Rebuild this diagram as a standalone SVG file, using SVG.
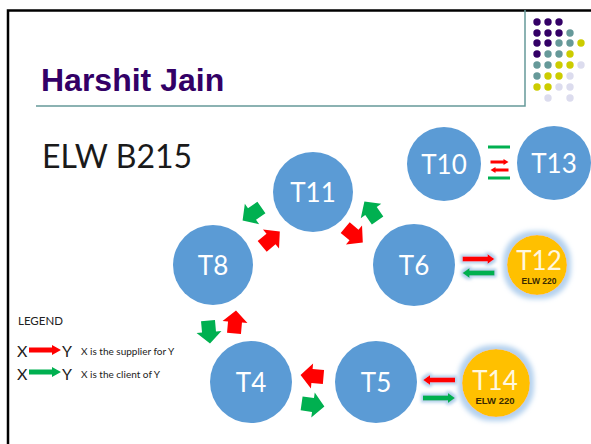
<svg xmlns="http://www.w3.org/2000/svg" xmlns:xlink="http://www.w3.org/1999/xlink" width="591" height="444" viewBox="0 0 591 444">
  <style>
    .node { fill: #5b9bd5; }
    .lab { font-family: Lato, "Liberation Sans", sans-serif; font-size: 26px; fill: #ffffff; text-anchor: middle; }
    .sub { font-family: "Liberation Sans", Arial, sans-serif; font-size: 8.5px; font-weight: bold; fill: #3a2a00; text-anchor: middle; }
    .org { fill: #ffc000; }
    .red { fill: #ff0000; }
    .grn { fill: #00b050; }
    .leg { font-family: Lato, "Liberation Sans", sans-serif; fill: #222222; }
  </style>
  <defs>
    <!-- fat block arrow, pointing along +x, centred on origin -->
    <path id="blk" d="M11.5,0 L0,-12.5 L0,-7 L-11.5,-7 L-11.5,7 L0,7 L0,12.5 Z"/>
    <!-- slim arrow, pointing along +x -->
    <path id="thin" d="M16,0 L9,-5 L9,-2.6 L-16,-2.6 L-16,2.6 L9,2.6 L9,5 Z"/>
    <path id="tiny" d="M9,0 L4,-3 L4,-1.4 L-9,-1.4 L-9,1.4 L4,1.4 L4,3 Z"/>
    <filter id="glow" x="-50%" y="-50%" width="200%" height="200%">
      <feMorphology in="SourceAlpha" operator="dilate" radius="2" result="d"/>
      <feGaussianBlur in="d" stdDeviation="1.6" result="b"/>
      <feFlood flood-color="#9dc3e6" flood-opacity="0.8"/>
      <feComposite in2="b" operator="in" result="g"/>
      <feMerge><feMergeNode in="g"/><feMergeNode in="SourceGraphic"/></feMerge>
    </filter>
    <filter id="halo" x="-50%" y="-50%" width="200%" height="200%">
      <feMorphology in="SourceAlpha" operator="dilate" radius="3.5" result="d"/>
      <feGaussianBlur in="d" stdDeviation="2.5" result="b"/>
      <feFlood flood-color="#b4d1ee" flood-opacity="1"/>
      <feComposite in2="b" operator="in" result="g"/>
      <feMerge><feMergeNode in="g"/><feMergeNode in="SourceGraphic"/></feMerge>
    </filter>
  </defs>

  <rect width="591" height="444" fill="#ffffff"/>

  <!-- slide frame -->
  <g id="frame">
    <path d="M8,444 V10.5 H591" fill="none" stroke="#000000" stroke-width="2.5"/>
    <path d="M36,106 H525 V10" fill="none" stroke="#669999" stroke-width="1.5"/>
  </g>

  <!-- dot ornament -->
  <g id="dots">
    <g fill="#330066">
      <circle cx="537" cy="22" r="3.7"/><circle cx="548" cy="22" r="3.7"/><circle cx="559" cy="22" r="3.7"/>
      <circle cx="537" cy="33" r="3.7"/><circle cx="548" cy="33" r="3.7"/><circle cx="559" cy="33" r="3.7"/>
      <circle cx="537" cy="43" r="3.7"/><circle cx="548" cy="43" r="3.7"/>
      <circle cx="537" cy="54" r="3.7"/>
    </g>
    <g fill="#669999">
      <circle cx="570" cy="33" r="3.7"/>
      <circle cx="559" cy="43" r="3.7"/><circle cx="570" cy="43" r="3.7"/>
      <circle cx="548" cy="54" r="3.7"/><circle cx="559" cy="54" r="3.7"/>
      <circle cx="537" cy="65" r="3.7"/><circle cx="548" cy="65" r="3.7"/>
      <circle cx="537" cy="76" r="3.7"/>
    </g>
    <g fill="#cccc00">
      <circle cx="581" cy="43" r="3.7"/>
      <circle cx="570" cy="54" r="3.7"/>
      <circle cx="559" cy="65" r="3.7"/><circle cx="570" cy="65" r="3.7"/>
      <circle cx="548" cy="76" r="3.7"/><circle cx="559" cy="76" r="3.7"/>
      <circle cx="537" cy="87" r="3.7"/><circle cx="548" cy="87" r="3.7"/>
    </g>
    <g fill="#dcdcee">
      <circle cx="581" cy="65" r="3.7"/>
      <circle cx="570" cy="76" r="3.7"/>
      <circle cx="559" cy="87" r="3.7"/><circle cx="570" cy="87" r="3.7"/>
      <circle cx="548" cy="98" r="3.7"/><circle cx="570" cy="98" r="3.7"/>
    </g>
  </g>

  <text x="41" y="91" font-family="'Liberation Sans', Arial, sans-serif" font-size="32" font-weight="bold" fill="#330066">Harshit Jain</text>
  <text x="42" y="168" font-family="Lato, 'Liberation Sans', sans-serif" font-size="32" fill="#1a1a1a">ELW B215</text>

  <!-- nodes -->
  <g id="T11"><circle class="node" cx="313" cy="192" r="40"/><text class="lab" x="313" y="201.5">T11</text></g>
  <g id="T8"><circle class="node" cx="213" cy="265" r="40"/><text class="lab" x="213" y="274.5">T8</text></g>
  <g id="T6"><circle class="node" cx="414" cy="265" r="41"/><text class="lab" x="414" y="274.5">T6</text></g>
  <g id="T10"><circle class="node" cx="444" cy="164" r="37"/><text class="lab" x="444" y="173.5">T10</text></g>
  <g id="T13"><circle class="node" cx="554" cy="163" r="37"/><text class="lab" x="554" y="172.5">T13</text></g>
  <g id="T4"><circle class="node" cx="251" cy="382" r="41"/><text class="lab" x="251" y="391.5">T4</text></g>
  <g id="T5"><circle class="node" cx="376" cy="382" r="41"/><text class="lab" x="376" y="391.5">T5</text></g>
  <g id="T12">
    <circle class="org" cx="537" cy="265" r="30" filter="url(#halo)"/>
    <text class="lab" x="539" y="270" style="fill:#fff8e0">T12</text>
    <text class="sub" x="539" y="283.5">ELW 220</text>
  </g>
  <g id="T14">
    <circle class="org" cx="496" cy="383" r="34" filter="url(#halo)"/>
    <text class="lab" x="495" y="390" style="fill:#fff8e0">T14</text>
    <text class="sub" x="495" y="404" style="font-size:9.5px">ELW 220</text>
  </g>

  <!-- connectors -->
  <g id="connectors">
    <!-- T8 / T11 -->
    <use xlink:href="#blk" class="grn" transform="translate(252,214) rotate(145)"/>
    <use xlink:href="#blk" class="red" transform="translate(271,239) rotate(-40)"/>
    <!-- T11 / T6 -->
    <use xlink:href="#blk" class="grn" transform="translate(371,211) rotate(-125)"/>
    <use xlink:href="#blk" class="red" transform="translate(354,235) rotate(40)"/>
    <!-- T8 / T4 -->
    <use xlink:href="#blk" class="grn" transform="translate(209,332) rotate(85)"/>
    <use xlink:href="#blk" class="red" transform="translate(235,322) rotate(-85)"/>
    <!-- T4 / T5 -->
    <use xlink:href="#blk" class="red" transform="translate(312,376) rotate(185)"/>
    <use xlink:href="#blk" class="grn" transform="translate(313,405) rotate(8)"/>
    <!-- T6 / T12 -->
    <g filter="url(#glow)">
      <use xlink:href="#thin" class="red" transform="translate(478.5,259)"/>
      <use xlink:href="#thin" class="grn" transform="translate(478.5,273) rotate(180)"/>
    </g>
    <!-- T5 / T14 -->
    <g filter="url(#glow)">
      <use xlink:href="#thin" class="red" transform="translate(439,380) rotate(180)"/>
      <use xlink:href="#thin" class="grn" transform="translate(439,398)"/>
    </g>
    <!-- T10 / T13 -->
    <rect class="grn" x="488" y="145.5" width="22" height="3"/>
    <use xlink:href="#tiny" class="red" transform="translate(499.5,162)"/>
    <use xlink:href="#tiny" class="red" transform="translate(499.5,170) rotate(180)"/>
    <rect class="grn" x="488" y="176.5" width="22" height="3"/>
  </g>

  <!-- legend -->
  <g id="legend">
    <text class="leg" x="18" y="325" font-size="11.5">LEGEND</text>
    <text class="leg" x="17" y="357" font-size="16">X</text>
    <path class="red" d="M29,347.5 H52 V345 L61,350 L52,355 V352.5 H29 Z"/>
    <text class="leg" x="62" y="357" font-size="16">Y</text>
    <text class="leg" x="81" y="355" font-size="10">X is the supplier for Y</text>
    <text class="leg" x="17" y="380" font-size="16">X</text>
    <path class="grn" d="M29,369.5 H52 V367 L61,372 L52,377 V374.5 H29 Z"/>
    <text class="leg" x="62" y="380" font-size="16">Y</text>
    <text class="leg" x="81" y="378" font-size="10">X is the client of Y</text>
  </g>
</svg>
